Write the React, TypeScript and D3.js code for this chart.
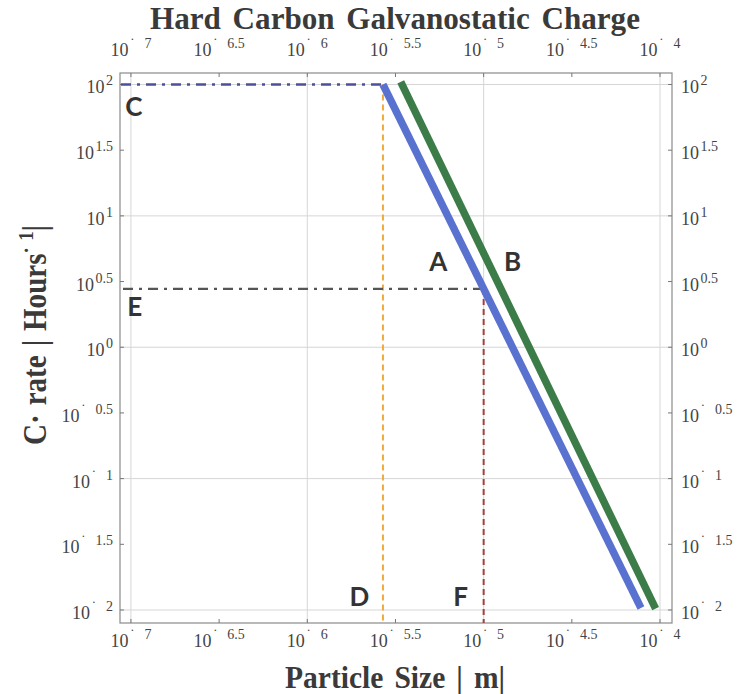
import React from "react";
import * as d3 from "d3";

// ---- data ----
const xTickExps = [-7, -6.5, -6, -5.5, -5, -4.5, -4];
const yTickExps = [2, 1.5, 1, 0.5, 0, -0.5, -1, -1.5, -2];
const xGridExps = [-7, -6, -5, -4];
const yGridExps = [2, 1, 0, -1, -2];

// series A (blue) and B (green): particle size [m] vs C-rate [1/h]
const seriesASize = [10 ** -5.571, 10 ** -4.108];
const seriesARate = [10 ** 2, 10 ** -1.985];
const seriesBSize = [10 ** -5.47, 10 ** -4.025];
const seriesBRate = [10 ** 2.02, 10 ** -1.99];

// guide points
const pointCD = { size: 10 ** -5.571, rate: 10 ** 2 };
const pointEF = { size: 10 ** -5, rate: 10 ** 0.444 };

const annotations = [
  { text: "C", size: 10 ** -6.983, rate: 10 ** 1.76 },
  { text: "E", size: 10 ** -6.978, rate: 10 ** 0.238 },
  { text: "D", size: 10 ** -5.705, rate: 10 ** -1.969 },
  { text: "F", size: 10 ** -5.131, rate: 10 ** -1.969 },
  { text: "A", size: 10 ** -5.257, rate: 10 ** 0.581 },
  { text: "B", size: 10 ** -4.836, rate: 10 ** 0.581 },
];

const W = 737;
const H = 694;
const frame = { left: 120, right: 672, top: 73, bottom: 623 };
const xDomain = [10 ** -7.062, 10 ** -3.932];
const yDomain = [10 ** -2.099, 10 ** 2.0875];

const serif = "'Liberation Serif', 'Times New Roman', serif";
const sans = "Lato, 'Open Sans', sans-serif";

function PowLabel({ x, y, exp, anchor }: { x: number; y: number; exp: number; anchor: string }) {
  const neg = exp < 0;
  const s = String(Math.abs(exp));
  return (
    <text x={x} y={y} textAnchor={anchor} fontFamily={serif} fontSize={18} fill="#444">
      10
      <tspan fontSize={14} dy={-8} dx={1.5}>
        {neg ? "\u02D9\u2002\u2009" + s : s}
      </tspan>
    </text>
  );
}

export default function App() {
  const x = d3.scaleLog().domain(xDomain).range([frame.left, frame.right]);
  const y = d3.scaleLog().domain(yDomain).range([frame.bottom, frame.top]);
  const line = d3
    .line<[number, number]>()
    .x((d) => x(d[0]))
    .y((d) => y(d[1]));

  const seriesA = seriesASize.map((s, i) => [s, seriesARate[i]] as [number, number]);
  const seriesB = seriesBSize.map((s, i) => [s, seriesBRate[i]] as [number, number]);

  const tickLen = 4;

  return (
    <svg
      width={W}
      height={H}
      style={{ position: "absolute", left: 0, top: 0, background: "#fff" }}
    >
      <rect x={0} y={0} width={W} height={H} fill="#fff" />
      {/* gridlines */}
      {xGridExps.map((e) => (
        <line
          key={"gx" + e}
          x1={x(10 ** e)}
          x2={x(10 ** e)}
          y1={frame.top}
          y2={frame.bottom}
          stroke="#d6d6d6"
          strokeWidth={1}
        />
      ))}
      {yGridExps.map((e) => (
        <line
          key={"gy" + e}
          x1={frame.left}
          x2={frame.right}
          y1={y(10 ** e)}
          y2={y(10 ** e)}
          stroke="#d6d6d6"
          strokeWidth={1}
        />
      ))}
      {/* frame */}
      <rect
        x={frame.left}
        y={frame.top}
        width={frame.right - frame.left}
        height={frame.bottom - frame.top}
        fill="none"
        stroke="#8a8a8a"
        strokeWidth={1.2}
      />
      {/* ticks */}
      {xTickExps.map((e) => (
        <g key={"tx" + e}>
          <line x1={x(10 ** e)} x2={x(10 ** e)} y1={frame.bottom} y2={frame.bottom - tickLen} stroke="#777" />
          <line x1={x(10 ** e)} x2={x(10 ** e)} y1={frame.top} y2={frame.top + tickLen} stroke="#777" />
          <PowLabel x={x(10 ** e)} y={frame.bottom + 24} exp={e} anchor="middle" />
          <PowLabel x={x(10 ** e)} y={frame.top - 17} exp={e} anchor="middle" />
        </g>
      ))}
      {yTickExps.map((e) => (
        <g key={"ty" + e}>
          <line x1={frame.left} x2={frame.left + tickLen} y1={y(10 ** e)} y2={y(10 ** e)} stroke="#777" />
          <line x1={frame.right} x2={frame.right - tickLen} y1={y(10 ** e)} y2={y(10 ** e)} stroke="#777" />
          <PowLabel x={frame.left - 7} y={y(10 ** e) + 9} exp={e} anchor="end" />
          <PowLabel x={frame.right + 9} y={y(10 ** e) + 9} exp={e} anchor="start" />
        </g>
      ))}

      {/* guide lines */}
      <line
        x1={frame.left + 1}
        x2={x(pointCD.size)}
        y1={y(pointCD.rate)}
        y2={y(pointCD.rate)}
        stroke="#4b4f9c"
        strokeWidth={2.5}
        strokeDasharray="10 6 3 6"
      />
      <line
        x1={x(pointCD.size)}
        x2={x(pointCD.size)}
        y1={y(pointCD.rate)}
        y2={frame.bottom}
        stroke="#f2a93b"
        strokeWidth={2}
        strokeDasharray="6 4"
      />
      <line
        x1={frame.left + 3}
        x2={x(pointEF.size)}
        y1={y(pointEF.rate)}
        y2={y(pointEF.rate)}
        stroke="#555"
        strokeWidth={2.2}
        strokeDasharray="10 6 3 6"
      />
      <line
        x1={x(pointEF.size)}
        x2={x(pointEF.size)}
        y1={y(pointEF.rate)}
        y2={frame.bottom}
        stroke="#a2403b"
        strokeWidth={2}
        strokeDasharray="6 4"
      />

      {/* series */}
      <path d={line(seriesB) || ""} fill="none" stroke="#3b7c48" strokeWidth={7.5} />
      <path d={line(seriesA) || ""} fill="none" stroke="#5a72cf" strokeWidth={7.5} />

      {/* annotations */}
      {annotations.map((a) => (
        <text
          key={a.text}
          x={x(a.size)}
          y={y(a.rate)}
          textAnchor="middle"
          fontFamily={sans}
          fontWeight={700}
          fontSize={26}
          fill="#333"
        >
          {a.text}
        </text>
      ))}

      {/* titles */}
      <text
        x={150}
        y={29}
        fontFamily={serif}
        fontWeight={700}
        fontSize={32}
        fill="#3a3a3a"
        wordSpacing={4}
        textLength={490}
        lengthAdjust="spacingAndGlyphs"
      >
        Hard Carbon Galvanostatic Charge
      </text>
      <text
        x={285}
        y={688}
        fontFamily={serif}
        fontWeight={700}
        fontSize={32}
        fill="#3a3a3a"
        wordSpacing={4}
        textLength={220}
        lengthAdjust="spacingAndGlyphs"
      >
        Particle Size | m|
      </text>
      <text
        transform="translate(46,445) rotate(-90)"
        fontFamily={serif}
        fontWeight={700}
        fontSize={34}
        fill="#3a3a3a"
        wordSpacing={2}
        textLength={220}
        lengthAdjust="spacingAndGlyphs"
      >
        C· rate | Hours
        <tspan fontSize={22} dy={-13}>· 1</tspan>
        <tspan dy={13}>|</tspan>
      </text>
    </svg>
  );
}
